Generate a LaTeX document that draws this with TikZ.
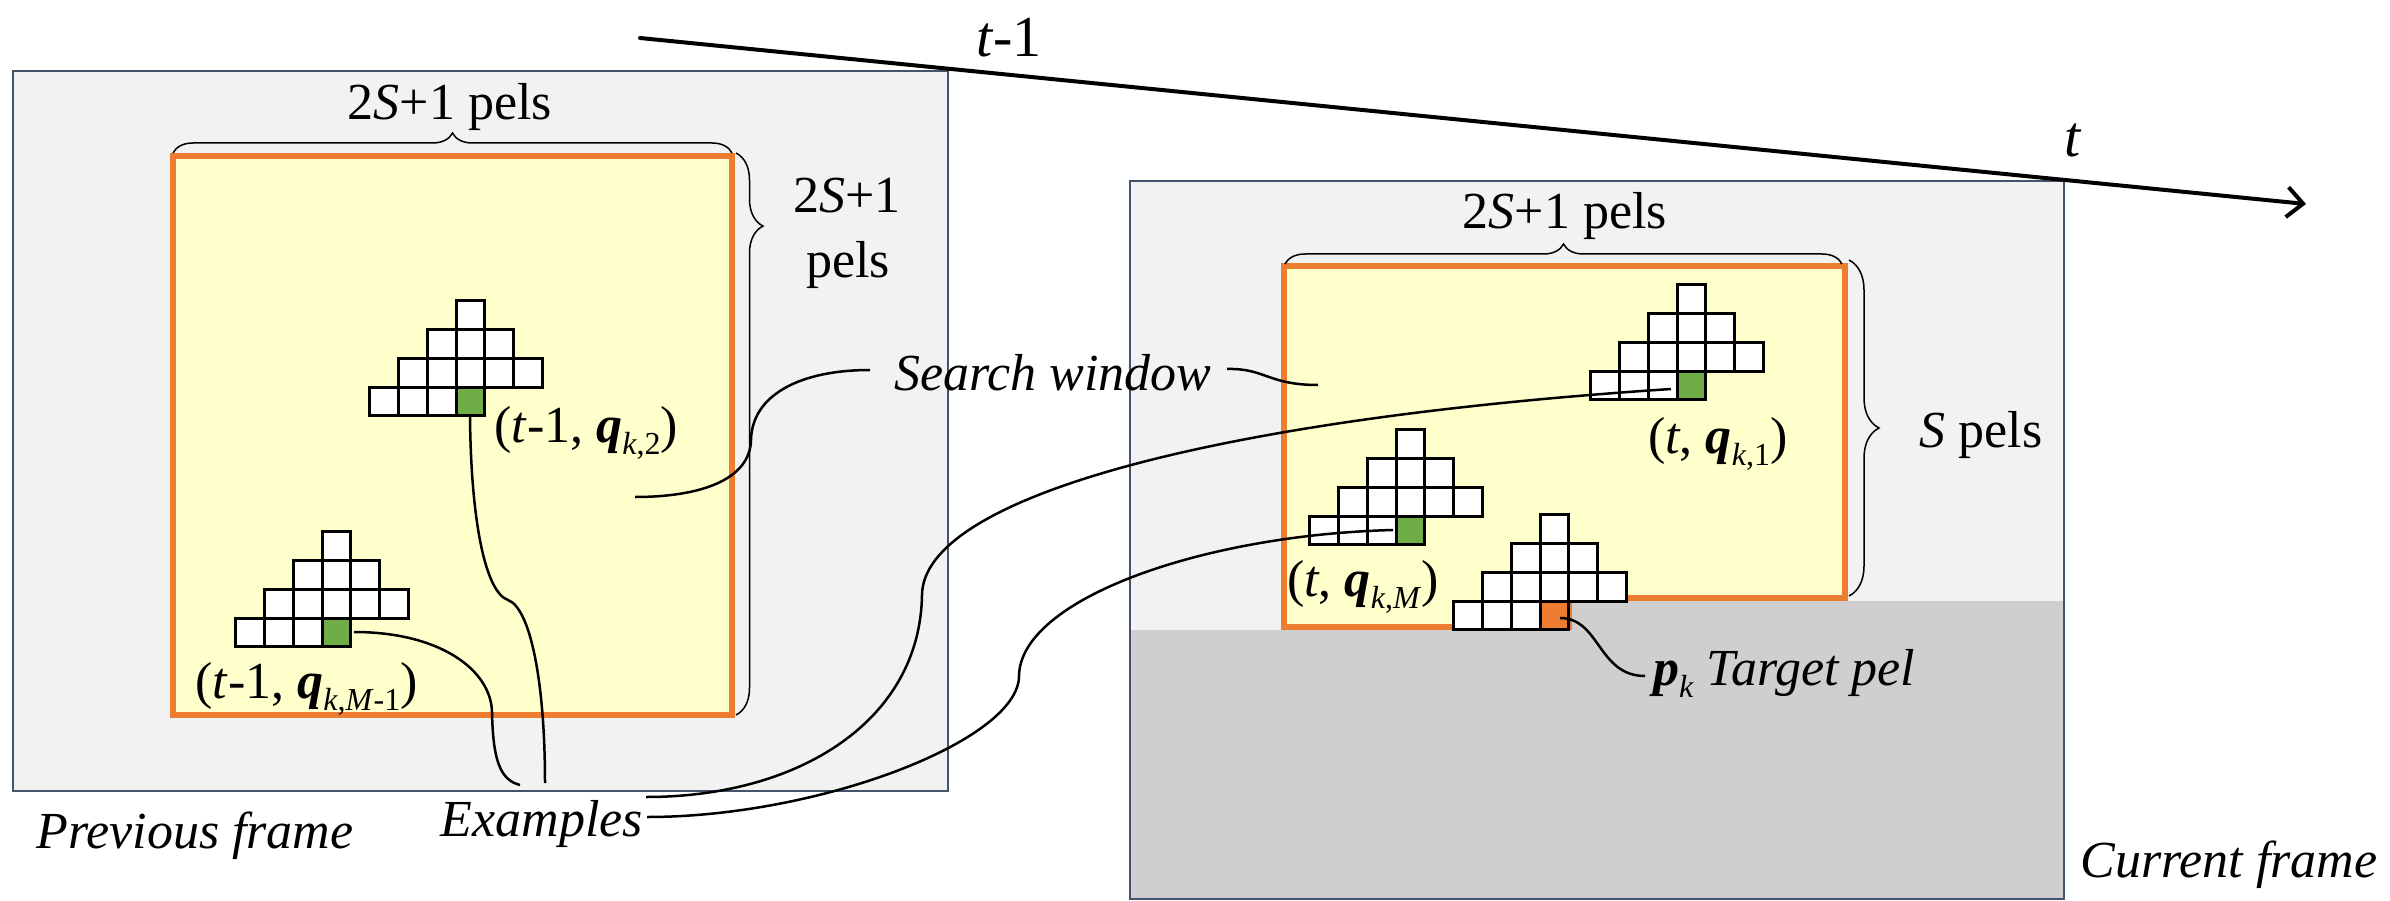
\documentclass[tikz,border=0pt]{standalone}
\usepackage{fontspec}
\setmainfont{Liberation Serif}
\usetikzlibrary{arrows.meta,decorations.pathreplacing}
\definecolor{framegray}{HTML}{F2F2F2}
\definecolor{futuregray}{HTML}{D0CECE}
\definecolor{frameedge}{HTML}{44546A}
\definecolor{winyellow}{HTML}{FFFFCC}
\definecolor{winorange}{HTML}{ED7D31}
\definecolor{pelgreen}{HTML}{70AD47}
\newcommand{\pelsz}{28.8}
\newcommand{\sbs}[1]{\raisebox{-12pt}{\fontsize{32}{32}\selectfont #1}}
\newcommand{\pelgrid}[3]{%
  \foreach \dx/\dy in {0/-3,-1/-2,0/-2,1/-2,-2/-1,-1/-1,0/-1,1/-1,2/-1,-3/0,-2/0,-1/0}{%
    \filldraw[pelcell] ({#1+\dx*\pelsz},{#2+\dy*\pelsz}) rectangle ++(\pelsz,\pelsz);}%
  \filldraw[pelcell,fill=#3] (#1,#2) rectangle ++(\pelsz,\pelsz);}
\begin{document}
\begin{tikzpicture}[x=1pt,y=-1pt,
  font=\fontsize{52}{60}\selectfont,
  framefill/.style={fill=framegray},
  frameline/.style={draw=frameedge,line width=2.5pt},
  window/.style={fill=winyellow,draw=winorange,line width=6pt},
  pelcell/.style={draw=black,fill=white,line width=3pt},
  lbl/.style={inner sep=0pt,anchor=base},
  lblw/.style={inner sep=0pt,anchor=base west},
  timelbl/.style={inner sep=0pt,anchor=base,font=\fontsize{58}{64}\selectfont},
  conn/.style={draw=black,line width=2.5pt},
  brc/.style={draw=black,line width=1.5pt,decorate,decoration={brace,amplitude=#1}},
]
\useasboundingbox (0,0) rectangle (2390,901);

% frames
\fill[framefill] (13,71) rectangle (948,791);
\fill[framefill] (1130,181) rectangle (2064,899);
\fill[futuregray] (1130,630) -- (1569,630) -- (1569,601) -- (2064,601) -- (2064,899) -- (1130,899) -- cycle;

% search windows
\filldraw[window] (173,156) rectangle (732,715);
\filldraw[window] (1284,266) -- (1845,266) -- (1845,598) -- (1569,598) -- (1569,627) -- (1284,627) -- cycle;

\draw[frameline] (13,71) rectangle (948,791);
\draw[frameline] (1130,181) rectangle (2064,899);

% braces
\draw[brc=20] (173,153) -- (732,153);
\draw[brc=27,decoration={aspect=0.13}] (736,153) -- (736,715);
\draw[brc=20] (1285,264) -- (1842,264);
\draw[brc=30] (1849,260) -- (1849,596);

% templates
\pelgrid{456}{387}{pelgreen}
\pelgrid{322}{618}{pelgreen}
\pelgrid{1677}{371}{pelgreen}
\pelgrid{1396}{516}{pelgreen}
\pelgrid{1540}{601}{winorange}

% connector coordinates
\coordinate (swA) at (870,370);
\coordinate (swAm) at (751,440);
\coordinate (swAe) at (635,497);
\coordinate (swB) at (1227,369);
\coordinate (swBe) at (1318,385);
\coordinate (gB) at (354,632);
\coordinate (aM) at (492,712);
\coordinate (exA) at (520,785);
\coordinate (gA) at (470,417);
\coordinate (bM) at (508,600);
\coordinate (exB) at (545,783);
\coordinate (exC) at (646,797);
\coordinate (cM) at (922,595);
\coordinate (gC) at (1671,389);
\coordinate (exD) at (647,817);
\coordinate (dM) at (1019,676);
\coordinate (gD) at (1393,530);
\coordinate (tgt) at (1560,618);
\coordinate (tgtE) at (1645,676);
\coordinate (tl0) at (640,38);
\coordinate (tl1) at (2306,204);

% connectors
\draw[conn] (swA) .. controls (800,370) and (752,395) .. (swAm) .. controls (750,480) and (700,497) .. (swAe);
\draw[conn] (swB) .. controls (1265,368) and (1268,385) .. (swBe);
\draw[conn] (gB) .. controls (440,632) and (491,670) .. (aM) .. controls (493,760) and (500,780) .. (exA);
\draw[conn] (gA) .. controls (471,520) and (485,592) .. (bM) .. controls (530,608) and (545,680) .. (exB);
\draw[conn] (exC) .. controls (800,797) and (920,720) .. (cM) .. controls (923,500) and (1200,420) .. (gC);
\draw[conn] (exD) .. controls (820,817) and (1019,740) .. (dM) .. controls (1020,600) and (1200,535) .. (gD);
\draw[conn] (tgt) .. controls (1600,618) and (1598,676) .. (tgtE);

% time axis
\draw[line width=4pt,line cap=round,-{Straight Barb[length=16pt,width=30pt]}] (tl0) -- (tl1);

% texts
\node[timelbl] (tm1) at (1009,57) {\textit{t}-1};
\node[timelbl] (tt) at (2073,157) {\textit{t}};
\node[lbl] (lw2s) at (450,120) {2\textit{S}+1 pels};
\node[lbl] (lrb1) at (847,213) {2\textit{S}+1};
\node[lbl] (lrb2) at (848,278) {pels};
\node[lbl] (rw2s) at (1565,229) {2\textit{S}+1 pels};
\node[lbl] (rsp) at (1981,447) {\textit{S} pels};
\node[lbl] (sw) at (1053,390) {\textit{Search window}};
\node[lblw] (qA) at (494,442) {(\textit{t}-1, \textbf{\textit{q}}\sbs{\textit{k},2})};
\node[lblw] (qB) at (195,698) {(\textit{t}-1, \textbf{\textit{q}}\sbs{\textit{k},\textit{M}-1})};
\node[lblw] (qC) at (1648,453) {(\textit{t}, \textbf{\textit{q}}\sbs{\textit{k},1})};
\node[lblw] (qD) at (1287,596) {(\textit{t}, \textbf{\textit{q}}\sbs{\textit{k},\textit{M}})};
\node[lbl] (ex) at (542,836) {\textit{Examples}};
\node[lbl] (pf) at (195,848) {\textit{Previous frame}};
\node[lbl] (cf) at (2229,877) {\textit{Current frame}};
\node[lblw] (pk) at (1653,685) {\textbf{\textit{p}}\sbs{\textit{k}} \textit{Target pel}};
\end{tikzpicture}
\end{document}
